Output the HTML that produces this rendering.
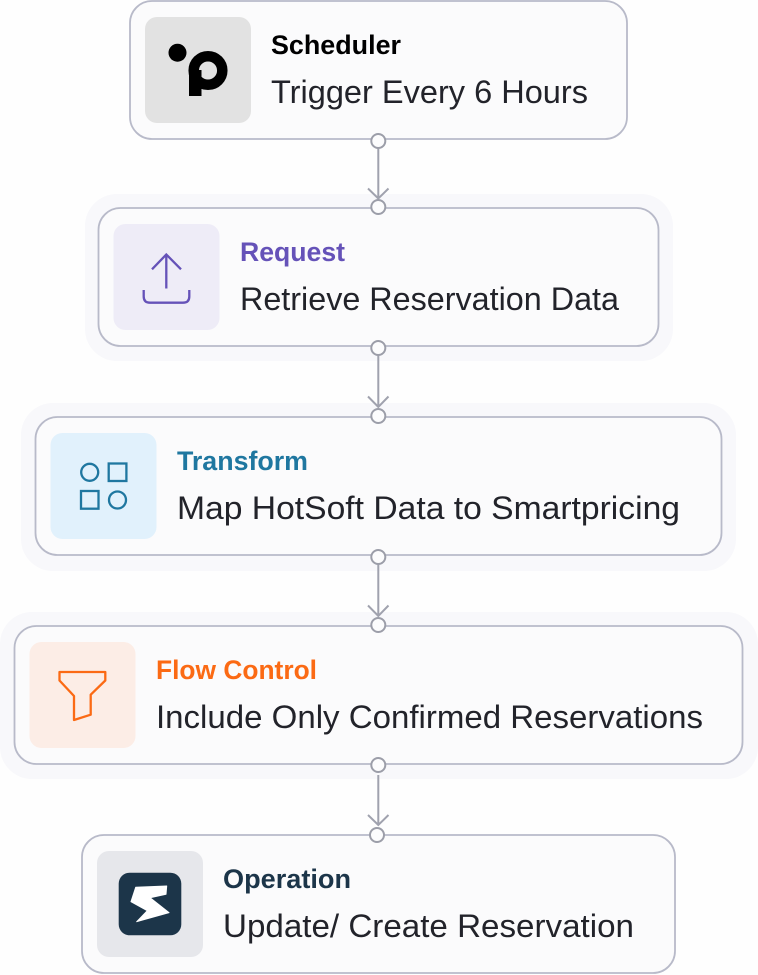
<!DOCTYPE html>
<html>
<head>
<meta charset="utf-8">
<style>
html,body{margin:0;padding:0;background:#fefefe;}
svg{display:block;}
.t{font-family:"Liberation Sans",sans-serif;font-weight:700;font-size:26.5px;}
.b{font-family:"Liberation Sans",sans-serif;font-weight:400;font-size:32.5px;fill:#22232a;}
.card{fill:#fbfbfc;stroke:#b8bac9;stroke-width:1.8;}
.halo{fill:#f8f8fb;}
.conn{fill:none;stroke:#a0a2ae;stroke-width:2;}
.dot{fill:#fcfcfd;stroke:#9c9ea9;stroke-width:2;}
</style>
</head>
<body>
<svg width="758" height="975" viewBox="0 0 758 975" xmlns="http://www.w3.org/2000/svg">
<rect x="85" y="194" width="588" height="167" rx="32" class="halo"/>
<rect x="21" y="403" width="715" height="168" rx="32" class="halo"/>
<rect x="0" y="612" width="758" height="167" rx="32" class="halo"/>

<rect x="130" y="1" width="497" height="138" rx="22" class="card"/>
<rect x="98.5" y="208" width="560" height="138" rx="22" class="card"/>
<rect x="35.5" y="417" width="686" height="138" rx="22" class="card"/>
<rect x="14.5" y="626" width="728" height="138" rx="22" class="card"/>
<rect x="82" y="835" width="593" height="138" rx="22" class="card"/>

<rect x="145" y="17" width="106" height="106" rx="12" fill="#e2e2e2"/>
<rect x="113.5" y="224" width="106" height="106" rx="12" fill="#eeecf7"/>
<rect x="50.5" y="433" width="106" height="106" rx="12" fill="#e1f1fc"/>
<rect x="29.5" y="642" width="106" height="106" rx="12" fill="#fcede6"/>
<rect x="97" y="851" width="106" height="106" rx="12" fill="#e6e7eb"/>

<circle cx="177.5" cy="52.7" r="9" fill="#000"/>
<circle cx="208" cy="70.5" r="14.3" fill="none" stroke="#000" stroke-width="10.5"/>
<rect x="189" y="70" width="12.5" height="26" fill="#000"/>

<g fill="none" stroke="#6552b8" stroke-width="2.3">
<path d="M166.3 288.5V254.5M152 269.3L166.3 254.5L181 269.3"/>
<path d="M143.7 290V296.5Q143.7 302.7 150 302.7H183Q189.3 302.7 189.3 296.5V290"/>
</g>

<g fill="none" stroke="#1f77a0" stroke-width="2.3">
<circle cx="89.7" cy="472.3" r="8.5"/>
<rect x="108.7" y="463.5" width="17.7" height="17.5"/>
<rect x="81" y="491" width="17.5" height="17.7"/>
<circle cx="117.5" cy="500" r="8.5"/>
</g>

<path d="M59.5 672H105.3V680.5L90.7 694.7V714.7L74 720V696L59.5 680.5Z" fill="none" stroke="#fb6a14" stroke-width="2.3" stroke-linejoin="round"/>

<rect x="118.7" y="872.7" width="62.6" height="62.6" rx="11" fill="#1c3549"/>
<path d="M166.7 886L166 894.3L150 897.7L169 912.7L136.7 921.7L147.3 910.7L131 901.7L135.7 887.3Z" fill="#fff" stroke="#fff" stroke-width="1" stroke-linejoin="round"/>

<text x="271" y="54" class="t" fill="#000" textLength="130" lengthAdjust="spacingAndGlyphs">Scheduler</text>
<text x="271" y="103" class="b" textLength="317" lengthAdjust="spacingAndGlyphs">Trigger Every 6 Hours</text>
<text x="240" y="261" class="t" fill="#6552b8" textLength="105" lengthAdjust="spacingAndGlyphs">Request</text>
<text x="240" y="310" class="b" textLength="379" lengthAdjust="spacingAndGlyphs">Retrieve Reservation Data</text>
<text x="177" y="470" class="t" fill="#1f77a0" textLength="131" lengthAdjust="spacingAndGlyphs">Transform</text>
<text x="177" y="519" class="b" textLength="503" lengthAdjust="spacingAndGlyphs">Map HotSoft Data to Smartpricing</text>
<text x="156" y="679" class="t" fill="#fb6a14" textLength="161" lengthAdjust="spacingAndGlyphs">Flow Control</text>
<text x="156" y="728" class="b" textLength="547" lengthAdjust="spacingAndGlyphs">Include Only Confirmed Reservations</text>
<text x="223" y="888" class="t" fill="#1c3549" textLength="128" lengthAdjust="spacingAndGlyphs">Operation</text>
<text x="223" y="937" class="b" textLength="411" lengthAdjust="spacingAndGlyphs">Update/ Create Reservation</text>

<path class="conn" d="M378.3 148V198M368 188.5L378.3 198.5L388.5 188.5"/>
<path class="conn" d="M378.3 355V407M368 396.5L378.3 407L388.5 396.5"/>
<path class="conn" d="M378.3 564V616M368 605.5L378.3 616L388.5 605.5"/>
<path class="conn" d="M378.3 775V825M368 815L378.3 825L388.5 815"/>

<circle cx="378.3" cy="141" r="7" class="dot"/>
<circle cx="378.3" cy="207" r="7" class="dot"/>
<circle cx="378.3" cy="348" r="7" class="dot"/>
<circle cx="378.3" cy="416" r="7" class="dot"/>
<circle cx="378.3" cy="557" r="7" class="dot"/>
<circle cx="378.3" cy="625" r="7" class="dot"/>
<circle cx="378.3" cy="765" r="7" class="dot"/>
<circle cx="377" cy="835" r="7" class="dot"/>
</svg>
</body>
</html>
